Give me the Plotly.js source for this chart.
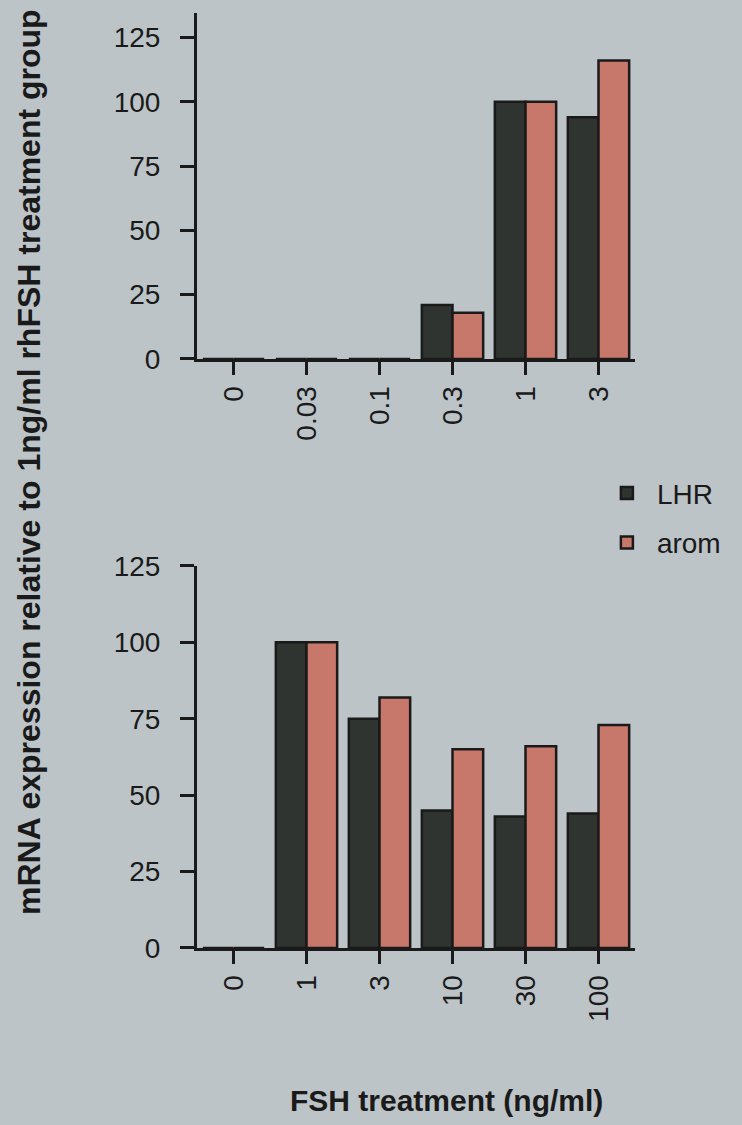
<!DOCTYPE html>
<html>
<head>
<meta charset="utf-8">
<script src="https://cdn.plot.ly/plotly-3.0.1.min.js"></script>
<style>html,body{margin:0;padding:0;background:#bcc4c8;}</style>
</head>
<body>
<div id="chart" style="width:742px;height:1125px;"></div>
<script>
const topCats = ['0', '0.03', '0.1', '0.3', '1', '3'];
const topLHR = [0, 0, 0, 21, 100, 94];
const topArom = [0, 0, 0, 18, 100, 116];

const botCats = ['0', '1', '3', '10', '30', '100'];
const botLHR = [0, 100, 75, 45, 43, 44];
const botArom = [0, 100, 82, 65, 66, 73];

const seriesNames = ['LHR', 'arom'];
const yTicks = [0, 25, 50, 75, 100, 125];
const yTitle = 'mRNA expression relative to 1ng/ml rhFSH treatment group';
const xTitle = 'FSH treatment (ng/ml)';

const darkColor = '#2f3431';
const pinkColor = '#c8776b';
const ink = '#1a1a1a';
const bg = '#bcc4c8';
const fontFam = '"Liberation Sans", Arial, Helvetica, sans-serif';

const outline = {color: ink, width: 2.5};

const traces = [
  {type: 'bar', name: seriesNames[0], x: topCats, y: topLHR, xaxis: 'x', yaxis: 'y',
   marker: {color: darkColor, line: outline}, legendgroup: 'a', showlegend: true},
  {type: 'bar', name: seriesNames[1], x: topCats, y: topArom, xaxis: 'x', yaxis: 'y',
   marker: {color: pinkColor, line: outline}, legendgroup: 'b', showlegend: true},
  {type: 'bar', name: seriesNames[0], x: botCats, y: botLHR, xaxis: 'x2', yaxis: 'y2',
   marker: {color: darkColor, line: outline}, legendgroup: 'a', showlegend: false},
  {type: 'bar', name: seriesNames[1], x: botCats, y: botArom, xaxis: 'x2', yaxis: 'y2',
   marker: {color: pinkColor, line: outline}, legendgroup: 'b', showlegend: false}
];

const tickFont = {family: fontFam, size: 28, color: ink};

function xAxis(anchor, cats) {
  return {
    anchor: anchor, type: 'category', categoryorder: 'array', categoryarray: cats,
    range: [-0.5, 5.5], showline: true, linecolor: ink, linewidth: 3,
    ticks: 'outside', ticklen: 13, tickwidth: 3, tickcolor: ink,
    tickangle: -90, tickfont: tickFont, showgrid: false, zeroline: false,
    ticklabelstandoff: 0, fixedrange: true
  };
}
function yAxis(anchor, domain, maxV) {
  return {
    anchor: anchor, domain: domain, range: [0, maxV], tickvals: yTicks,
    showline: true, linecolor: ink, linewidth: 3,
    ticks: 'outside', ticklen: 14, tickwidth: 3, tickcolor: ink,
    tickfont: tickFont, showgrid: false, zeroline: false,
    ticklabelstandoff: 14, fixedrange: true
  };
}

const layout = {
  width: 742, height: 1125,
  margin: {l: 197, r: 107, t: 13, b: 177},
  paper_bgcolor: bg, plot_bgcolor: bg,
  barmode: 'group', bargap: 0.16, bargroupgap: 0,
  font: {family: fontFam, color: ink},
  xaxis: xAxis('y', topCats),
  yaxis: yAxis('x', [0.63, 1], 134.5),
  xaxis2: xAxis('y2', botCats),
  yaxis2: yAxis('x2', [0, 0.4086], 125),
  showlegend: true,
  legend: {
    x: 0.913, y: 0.46, xanchor: 'left', yanchor: 'middle',
    font: {family: fontFam, size: 28, color: ink},
    bgcolor: 'rgba(0,0,0,0)', tracegroupgap: 10, itemwidth: 50
  },
  annotations: [
    {text: '<b>' + yTitle + '</b>', xref: 'paper', yref: 'paper',
     x: (29 - 197) / 438, y: (948 - 462) / 935, xanchor: 'center', yanchor: 'middle',
     textangle: -90, showarrow: false,
     font: {family: fontFam, size: 32, color: ink}},
    {text: '<b>' + xTitle + '</b>', xref: 'paper', yref: 'paper',
     x: (446 - 197) / 438, y: -(1100 - 948) / 935, xanchor: 'center', yanchor: 'middle',
     showarrow: false,
     font: {family: fontFam, size: 30, color: ink}}
  ]
};

Plotly.newPlot('chart', traces, layout, {displayModeBar: false, staticPlot: true});
</script>
</body>
</html>
